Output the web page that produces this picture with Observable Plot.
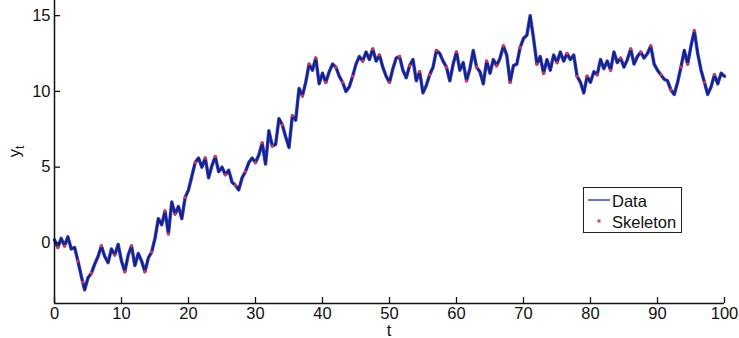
<!DOCTYPE html>
<html>
<head>
<meta charset="utf-8">
<script src="https://cdn.jsdelivr.net/npm/d3@7"></script>
<script src="https://cdn.jsdelivr.net/npm/@observablehq/plot@0.6"></script>
<style>
  body { margin: 0; background: #fff; font-family: "Liberation Sans", Arial, sans-serif; }
  #chart { position: relative; width: 739px; height: 338px; }
  .legend { position: absolute; left: 583px; top: 187px; width: 97px; height: 44px;
            border: 1px solid #222; background: #fff; font-size: 16.5px; color: #111; }
  .legend svg { position: absolute; left: 0; top: 0; }
  .legend span { position: absolute; left: 28px; line-height: 1; }
</style>
</head>
<body>
<div id="chart"></div>
<script>
// Sampling step of the observed series
const dt = 0.5;

// Observed series y_t, one value every dt from t = 0 to t = 100
const dataY = [
  0.2, -0.3, 0.3, -0.2, 0.4, -0.4, -0.3, -1.2, -2.2, -3.1, -2.3, -2.0, -1.4, -0.9, -0.2, -0.9, -1.3, -0.4, -0.8, -0.1,
  -1.2, -1.9, -0.8, -0.2, -1.5, -0.7, -1.2, -1.9, -1.0, -0.6, 0.3, 1.6, 1.2, 2.1, 0.6, 2.7, 1.9, 2.4, 1.6, 3.0,
  3.5, 4.4, 5.3, 5.6, 5.0, 5.6, 4.3, 5.1, 5.7, 4.7, 5.0, 4.5, 4.8, 4.0, 3.8, 3.5, 4.3, 4.7, 5.3, 5.6,
  5.3, 5.8, 6.6, 5.2, 7.4, 6.4, 6.5, 8.2, 7.8, 7.0, 6.3, 8.4, 8.1, 10.2, 9.7, 10.6, 11.8, 11.4, 12.2, 10.5,
  11.2, 10.6, 11.3, 11.8, 11.6, 11.0, 10.6, 10.0, 10.3, 11.0, 11.8, 12.3, 12.0, 12.6, 12.1, 12.8, 12.0, 12.4, 11.6, 11.0,
  10.6, 11.5, 12.2, 12.3, 11.4, 10.9, 11.7, 12.1, 10.7, 11.3, 9.9, 10.4, 11.1, 11.6, 12.7, 12.5, 12.0, 11.6, 10.7, 11.8,
  12.6, 11.4, 11.9, 10.7, 11.5, 12.7, 11.6, 11.3, 10.5, 12.0, 11.2, 12.1, 11.7, 12.2, 13.0, 12.4, 10.6, 11.7, 11.8, 12.9,
  13.5, 13.7, 15.0, 13.5, 11.8, 12.3, 11.2, 12.1, 11.4, 12.4, 11.9, 12.6, 12.0, 12.5, 12.1, 12.4, 11.0, 10.6, 9.9, 11.0,
  10.6, 11.3, 11.1, 12.1, 11.5, 12.0, 11.4, 12.6, 11.9, 12.2, 11.6, 12.1, 12.8, 11.8, 12.3, 12.6, 12.2, 12.5, 13.0, 11.8,
  11.4, 11.1, 10.8, 10.7, 10.1, 9.8, 10.6, 11.6, 12.7, 11.8, 13.0, 14.0, 12.5, 11.4, 10.6, 9.8, 10.3, 11.1, 10.5, 11.2,
  11.0
];

// Skeleton points (time and value)
const skeletonT = [
  0.5, 1.5, 3.5, 4.2, 5.5, 7, 9, 10.5, 11.5, 13.5, 14.5, 16.5, 17, 18, 19.5, 21, 22.5, 24, 25.5, 27,
  28.5, 30, 31, 32.5, 34, 35.5, 37, 38, 39, 40.5, 42, 43, 44.5, 46, 47.5, 48.5, 50, 51.5, 53, 54.5,
  56, 57, 58.5, 60, 61.5, 63, 64.5, 66, 67, 68, 69.5, 72, 73, 75, 76.5, 78, 79.5, 81, 83, 84.5,
  86, 87.5, 89, 90.5, 92, 93.5, 94.5, 95.5, 97, 98.5
];
const skeletonY = [
  -0.3, -0.2, -1.2, -2.6, -2.0, -0.2, -0.8, -1.9, -0.2, -1.9, -0.6, 2.1, 0.6, 1.9, 3.0, 5.3, 5.6, 5.7, 4.5, 3.8,
  4.7, 5.3, 6.6, 6.4, 7.8, 8.4, 9.7, 11.8, 12.2, 10.6, 11.6, 10.6, 11.0, 12.0, 12.8, 12.4, 10.6, 12.3, 11.7, 11.3,
  11.1, 12.7, 11.6, 12.6, 10.7, 11.6, 12.0, 11.7, 13.0, 10.6, 12.9, 11.8, 11.2, 11.9, 12.5, 11.0, 11.0, 11.1, 11.4, 12.2,
  12.8, 12.6, 13.0, 11.1, 10.1, 11.6, 11.8, 14.0, 10.6, 11.1
];

// Axis ticks
const xTicks = [0, 10, 20, 30, 40, 50, 60, 70, 80, 90, 100];
const yTicks = [0, 5, 10, 15];

const series = dataY.map((y, i) => ({t: i * dt, y}));
const skeleton = skeletonT.map((t, i) => ({t, y: skeletonY[i]}));

const font = "'Liberation Sans', Arial, sans-serif";

const plot = Plot.plot({
  width: 739,
  height: 338,
  marginLeft: 54,
  marginRight: 15,
  marginTop: 0,
  marginBottom: 35,
  x: {domain: [0, 100]},
  y: {domain: [-4, 16]},
  style: {fontFamily: font, fontSize: "16.5px", color: "#111", background: "#fff", overflow: "visible"},
  marks: [
    // bright blue halo under a dark navy core gives the dense trace its look
    Plot.line(series, {x: "t", y: "y", stroke: "#2f3fd0", strokeWidth: 3.4, strokeLinejoin: "round"}),
    Plot.line(series, {x: "t", y: "y", stroke: "#18207e", strokeWidth: 1.8, strokeLinejoin: "round"}),
    Plot.dot(skeleton, {x: "t", y: "y", r: 1.6, fill: "#e8323c"}),
    Plot.ruleX([0], {stroke: "#111", strokeWidth: 1.5}),
    Plot.ruleY([-4], {stroke: "#111", strokeWidth: 1.5}),
    Plot.axisX({ticks: xTicks, tickSize: -6, tickPadding: 10, label: null, stroke: "#111", strokeWidth: 1.3}),
    Plot.axisY({ticks: yTicks, tickSize: -6, tickPadding: 10, label: null, stroke: "#111", strokeWidth: 1.3})
  ]
});

document.getElementById("chart").appendChild(plot);

// Axis titles: "t" below the x axis, subscripted "y_t" beside the y axis
const svg = d3.select(plot);
const xr = plot.scale("x").range;
const yr = plot.scale("y").range;
svg.append("text")
  .attr("x", (xr[0] + xr[1]) / 2)
  .attr("y", yr[0] + 33)
  .attr("text-anchor", "middle")
  .attr("font-family", font)
  .attr("font-size", 16.5)
  .attr("fill", "#111")
  .text("t");
const yl = svg.append("text")
  .attr("transform", `translate(20,${(yr[0] + yr[1]) / 2}) rotate(-90)`)
  .attr("text-anchor", "middle")
  .attr("font-family", font)
  .attr("font-size", 16.5)
  .attr("fill", "#111");
yl.append("tspan").text("y");
yl.append("tspan").attr("font-size", 12).attr("dy", 4).text("t");

// Legend box
const legend = document.createElement("div");
legend.className = "legend";
legend.innerHTML = `
  <svg width="97" height="44">
    <line x1="4" x2="26" y1="12" y2="12" stroke="#3b46c8" stroke-width="1.5"></line>
    <rect x="13.5" y="31.5" width="3" height="3" fill="#e04050"></rect>
  </svg>
  <span style="top:5px">Data</span>
  <span style="top:26px">Skeleton</span>`;
document.getElementById("chart").appendChild(legend);
</script>
</body>
</html>
